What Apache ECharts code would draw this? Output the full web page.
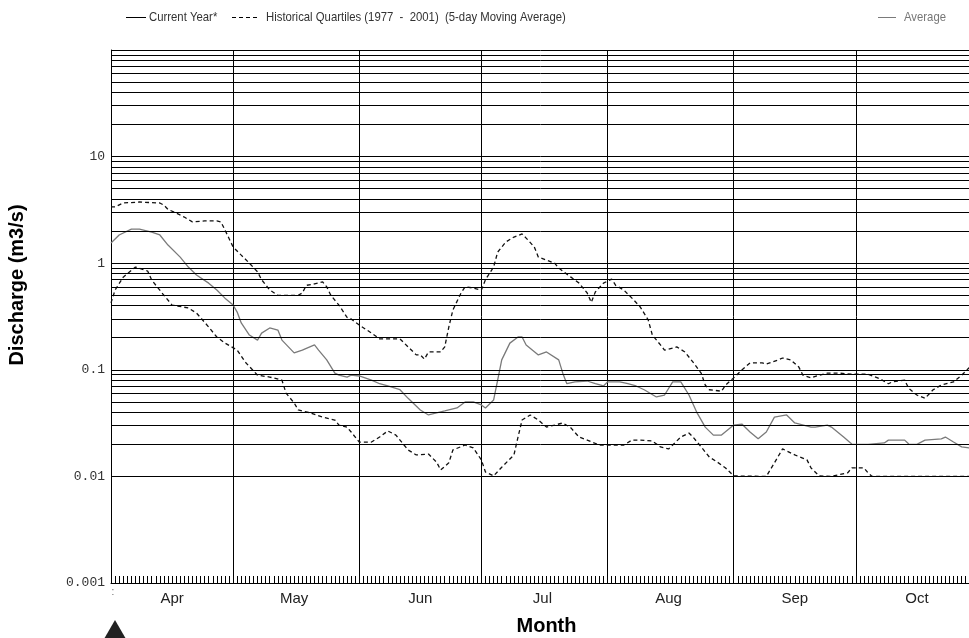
<!DOCTYPE html>
<html>
<head>
<meta charset="utf-8">
<script src="https://cdn.jsdelivr.net/npm/echarts@6/dist/echarts.min.js"></script>
<style>
  html, body { margin: 0; padding: 0; background: #fff; }
  #chart { width: 969px; height: 638px; }
</style>
</head>
<body>
<div id="chart"></div>
<script>
// Calendar of the plotted season (one category per day, Apr 1 .. Nov 1)
const monthNames = ['Apr', 'May', 'Jun', 'Jul', 'Aug', 'Sep', 'Oct', 'Nov'];
const monthLengths = [30, 31, 30, 31, 31, 30, 31, 1];
const labelDayOfMonth = 16;
const yTickLabels = ['0.001', '0.01', '0.1', '1', '10'];

const legendCurrent = 'Current Year*';
const legendQuartiles = 'Historical Quartiles (1977  -  2001)  (5-day Moving Average)';
const legendAverage = 'Average';

// [day index counted from Apr 1, discharge in m3/s]
const currentYear = [];
const upperQuartile = [[0,3.37],[1,3.37],[3,3.67],[7,3.75],[12,3.67],[13,3.5],[14,3.2],[16,2.96],[18,2.71],[20,2.44],[23,2.49],[26,2.49],[27,2.44],[28,2.05],[30,1.42],[32,1.19],[34,1.0],[36,0.83],[37,0.7],[39,0.56],[41,0.5],[44,0.5],[46,0.5],[47,0.525],[48,0.62],[50,0.64],[52,0.667],[53,0.6],[54,0.5],[56,0.405],[58,0.31],[59,0.3],[61,0.263],[64,0.221],[66,0.195],[68,0.195],[71,0.195],[73,0.164],[75,0.138],[76,0.138],[77,0.126],[78,0.147],[81,0.147],[82,0.164],[83,0.252],[84,0.364],[86,0.525],[87,0.6],[89,0.585],[91,0.56],[92,0.7],[94,0.92],[95,1.27],[97,1.58],[99,1.76],[101,1.88],[102,1.72],[104,1.42],[105,1.14],[107,1.07],[109,1.0],[110,0.9],[113,0.74],[115,0.65],[117,0.525],[118,0.43],[119,0.537],[121,0.65],[123,0.71],[124,0.62],[126,0.56],[128,0.47],[130,0.39],[132,0.293],[133,0.212],[135,0.171],[136,0.153],[138,0.16],[139,0.164],[141,0.147],[143,0.118],[145,0.093],[146,0.072],[147,0.065],[150,0.063],[151,0.072],[153,0.084],[155,0.0995],[157,0.116],[160,0.116],[161,0.113],[164,0.124],[165,0.129],[167,0.124],[169,0.106],[170,0.089],[172,0.084],[174,0.089],[176,0.093],[179,0.093],[182,0.091],[186,0.091],[189,0.082],[191,0.074],[192,0.077],[195,0.08],[196,0.067],[198,0.058],[200,0.054],[202,0.065],[204,0.072],[207,0.077],[209,0.089],[211,0.106],[213,0.125]];
const averageFlow = [[0,1.55],[2,1.84],[5,2.09],[7,2.09],[10,1.96],[12,1.84],[14,1.48],[17,1.14],[19,0.92],[21,0.774],[24,0.65],[26,0.56],[28,0.47],[30,0.405],[31,0.348],[32,0.275],[34,0.212],[36,0.19],[37,0.221],[39,0.247],[41,0.236],[42,0.19],[45,0.144],[47,0.153],[50,0.171],[51,0.153],[53,0.124],[55,0.093],[56,0.089],[58,0.0855],[59,0.089],[61,0.0875],[64,0.08],[66,0.074],[68,0.0705],[71,0.065],[73,0.054],[76,0.042],[78,0.0377],[80,0.0394],[82,0.0411],[85,0.0439],[87,0.0499],[89,0.0499],[91,0.0468],[92,0.0439],[94,0.052],[95,0.08],[96,0.124],[98,0.178],[100,0.203],[101,0.203],[102,0.171],[105,0.138],[107,0.147],[110,0.124],[111,0.093],[112,0.074],[114,0.077],[117,0.0785],[119,0.074],[121,0.0705],[122,0.077],[125,0.077],[127,0.074],[129,0.0705],[131,0.065],[134,0.0556],[136,0.058],[138,0.077],[140,0.077],[142,0.058],[144,0.0394],[146,0.029],[148,0.0244],[150,0.0244],[153,0.0303],[155,0.031],[157,0.0261],[159,0.0225],[161,0.0261],[163,0.036],[166,0.0377],[168,0.0317],[172,0.029],[173,0.029],[176,0.0303],[177,0.029],[180,0.0234],[182,0.0201],[186,0.02],[190,0.0206],[191,0.0219],[195,0.0219],[196,0.0201],[198,0.02],[200,0.0219],[204,0.0225],[205,0.0234],[207,0.021],[209,0.0189],[211,0.0185],[213,0.0185]];
const lowerQuartile = [[0,0.424],[1,0.56],[3,0.74],[6,0.92],[9,0.845],[10,0.695],[13,0.5],[15,0.405],[19,0.38],[21,0.341],[24,0.252],[26,0.203],[28,0.178],[31,0.153],[33,0.118],[36,0.089],[39,0.0855],[42,0.08],[43,0.0605],[45,0.0489],[46,0.042],[49,0.0394],[52,0.036],[55,0.0338],[56,0.0303],[58,0.029],[59,0.0261],[61,0.021],[64,0.021],[66,0.0234],[68,0.0267],[70,0.0244],[73,0.0177],[75,0.0159],[78,0.0162],[80,0.0136],[81,0.0115],[83,0.0134],[84,0.0177],[87,0.0197],[89,0.0185],[91,0.0143],[92,0.011],[94,0.0101],[96,0.0122],[99,0.0159],[100,0.0234],[101,0.0338],[103,0.0377],[105,0.0338],[107,0.029],[109,0.0303],[111,0.0317],[113,0.0285],[115,0.0234],[117,0.0219],[120,0.0197],[122,0.0197],[126,0.0197],[128,0.0219],[130,0.0219],[133,0.0215],[135,0.0189],[137,0.0181],[138,0.0197],[140,0.0234],[142,0.0255],[143,0.0234],[145,0.0189],[147,0.0152],[149,0.0136],[151,0.012],[153,0.0101],[161,0.01],[163,0.0134],[165,0.0181],[168,0.0159],[171,0.0143],[172,0.012],[174,0.0101],[177,0.01],[181,0.0108],[182,0.012],[185,0.012],[186,0.0108],[187,0.01],[213,0.01]];

// Build day categories, month boundaries and mid-month label positions
const days = [];
const monthStartIdx = new Set();
const labelIdx = new Set();
monthNames.forEach((m, mi) => {
  monthStartIdx.add(days.length);
  for (let d = 1; d <= monthLengths[mi]; d++) {
    if (d === labelDayOfMonth) labelIdx.add(days.length);
    days.push(m + ' ' + d);
  }
});

// Horizontal rules at 1..9 x every decade of the log scale
const gridValues = [];
for (let e = -3; e <= 1; e++) {
  for (let k = 1; k <= 9; k++) {
    const v = Number((k * Math.pow(10, e)).toPrecision(3));
    if (v > 0.001) gridValues.push(v);
  }
}
gridValues.push(100);

const chart = echarts.init(document.getElementById('chart'), null, { renderer: 'canvas' });

const sansFont = "'Liberation Sans', Arial, Helvetica, sans-serif";
const dashed = [4, 3];
const averageGrey = '#7a7a7a';

const option = {
  animation: false,
  backgroundColor: '#fff',
  // the October column runs on past the right edge of the page
  grid: { left: 111, top: 50, bottom: 55, width: 871, outerBoundsMode: 'none', containLabel: false },
  xAxis: {
    type: 'category',
    data: days,
    boundaryGap: false,
    axisLine: { show: true, lineStyle: { color: '#000', width: 1 } },
    axisTick: { show: true, inside: true, length: 7, interval: 0, lineStyle: { color: '#000' } },
    axisLabel: {
      interval: (i) => labelIdx.has(i),
      formatter: (v) => v.split(' ')[0],
      fontFamily: sansFont,
      fontSize: 15, color: '#222', margin: 8
    },
    splitLine: { show: true, interval: (i) => monthStartIdx.has(i), lineStyle: { color: '#000', width: 1 } },
    name: 'Month',
    nameLocation: 'middle',
    nameGap: 33,
    nameTextStyle: { fontFamily: sansFont, fontWeight: 'bold', fontSize: 20, color: '#000' }
  },
  yAxis: {
    type: 'log',
    logBase: 10,
    min: 0.001,
    max: 100,
    axisLine: { show: true, lineStyle: { color: '#000', width: 1 } },
    axisTick: { show: false },
    splitLine: { show: false },
    axisLabel: {
      formatter: (v) => yTickLabels[Math.round(Math.log10(v)) + 3] || '',
      fontFamily: "'Liberation Mono', 'DejaVu Sans Mono', monospace",
      fontSize: 13, color: '#333', margin: 6
    }
  },
  series: [
    {
      name: 'rules', type: 'line', data: [], silent: true, z: 1,
      markLine: {
        silent: true, symbol: 'none', animation: false,
        label: { show: false },
        lineStyle: { color: '#000', width: 1, type: 'solid' },
        emphasis: { disabled: true },
        data: gridValues.map(v => ({ yAxis: v }))
      }
    },
    { name: legendCurrent, type: 'line', data: currentYear, symbol: 'none', z: 5,
      lineStyle: { color: '#000', width: 1.2 }, itemStyle: { color: '#000' } },
    { name: legendQuartiles, type: 'line', data: upperQuartile, symbol: 'none', z: 4,
      lineStyle: { color: '#111', width: 1.3, type: dashed }, itemStyle: { color: '#111' } },
    { name: legendQuartiles, type: 'line', data: lowerQuartile, symbol: 'none', z: 4,
      lineStyle: { color: '#111', width: 1.3, type: dashed }, itemStyle: { color: '#111' } },
    { name: legendAverage, type: 'line', data: averageFlow, symbol: 'none', z: 4,
      lineStyle: { color: averageGrey, width: 1.3 }, itemStyle: { color: averageGrey } }
  ]
};

chart.setOption(option);

// Key along the top edge, set in a condensed face: sample stroke then caption
const keyRow = 17;
const keyEntries = [
  { text: legendCurrent, from: 126, to: 146, textAt: 149, stroke: '#000', dash: null, fill: '#333' },
  { text: legendQuartiles, from: 232, to: 259, textAt: 266, stroke: '#000', dash: [4, 3], fill: '#333' },
  { text: legendAverage, from: 878, to: 896, textAt: 904, stroke: averageGrey, dash: null, fill: '#777' }
];
const keyGraphics = [];
keyEntries.forEach((k) => {
  keyGraphics.push({
    type: 'line', silent: true,
    shape: { x1: k.from, y1: keyRow + 0.5, x2: k.to, y2: keyRow + 0.5 },
    style: { stroke: k.stroke, lineWidth: 1, lineDash: k.dash }
  });
  keyGraphics.push({
    type: 'text', silent: true, x: k.textAt, y: keyRow, scaleX: 0.84,
    style: { text: k.text, fontFamily: sansFont, fontSize: 13.5, fill: k.fill,
      align: 'left', verticalAlign: 'middle' }
  });
});

// Start-of-record marker below the first day, placed through the axis scales
const p0 = chart.convertToPixel({ gridIndex: 0 }, [0, 0.001]);
chart.setOption({
  graphic: keyGraphics.concat([
    {
      type: 'text', x: 17, y: 285, rotation: Math.PI / 2,
      style: { text: 'Discharge (m3/s)', fontFamily: sansFont,
        fontWeight: 'bold', fontSize: 20, fill: '#000', align: 'center', verticalAlign: 'middle' }
    },
    {
      type: 'text', x: p0[0] + 2, y: p0[1] + 4,
      style: { text: ':', fontSize: 10, fill: '#666', align: 'center', verticalAlign: 'top' }
    },
    {
      type: 'polygon',
      shape: { points: [[p0[0] + 4, p0[1] + 37], [p0[0] - 7, p0[1] + 56], [p0[0] + 15, p0[1] + 56]] },
      style: { fill: '#222' }
    }
  ])
});
</script>
</body>
</html>
